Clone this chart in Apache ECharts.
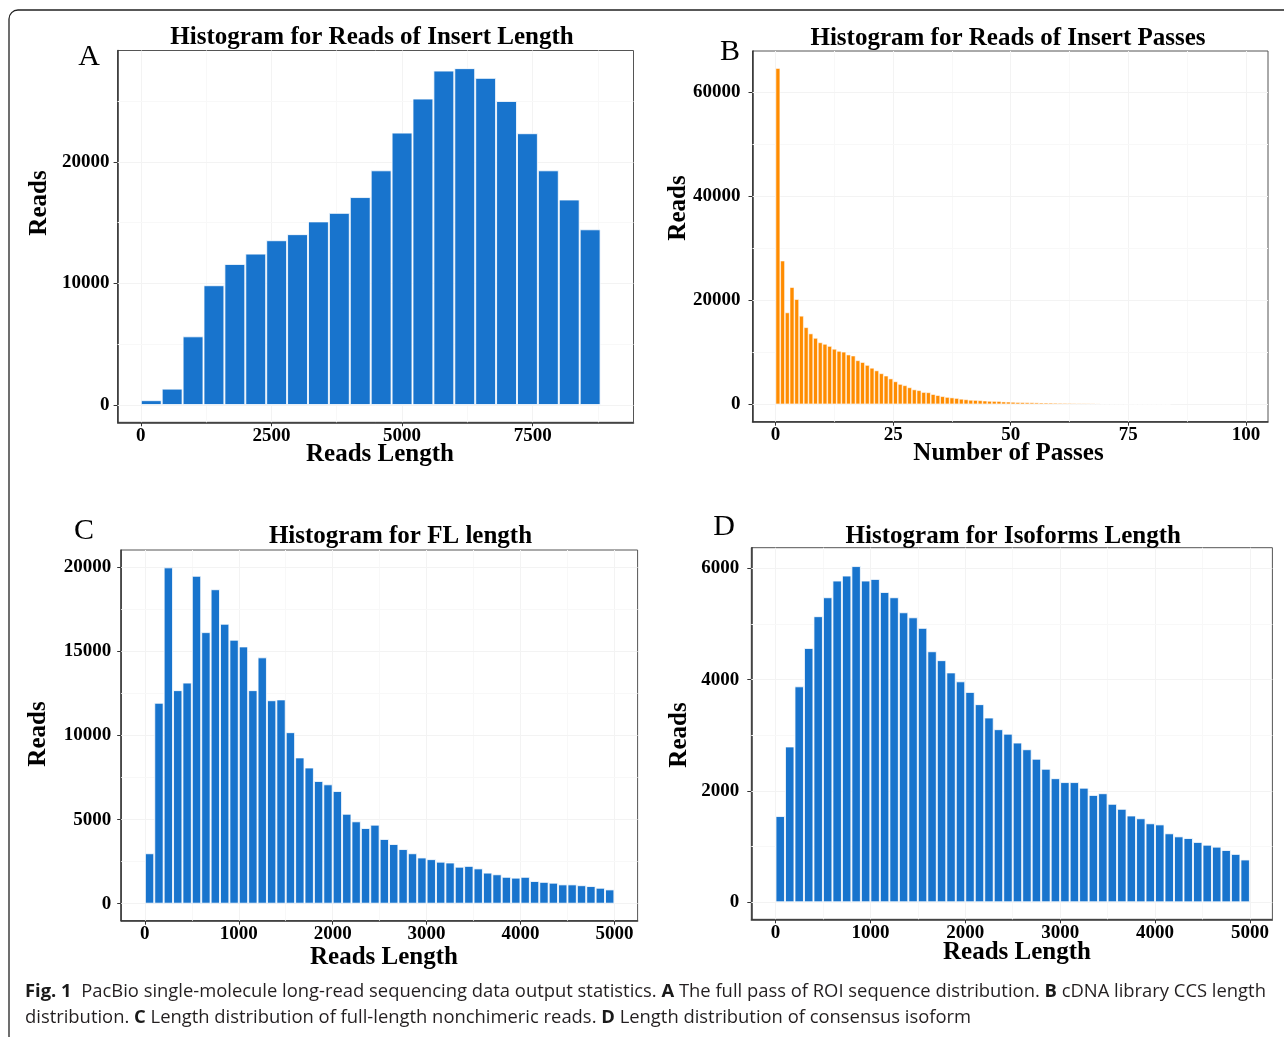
<!DOCTYPE html>
<html><head><meta charset="utf-8">
<script src="https://cdn.jsdelivr.net/npm/echarts@6/dist/echarts.min.js"></script>
<style>html,body{margin:0;padding:0;background:#fff}#c{width:1284px;height:1037px}</style>
</head><body><div id="c"></div>
<script>
// ---------- Panel A: Histogram for Reads of Insert Length ----------
const aBinStart = 0, aBinWidth = 400;
const aReads = [400,1350,5650,9850,11600,12450,13550,14050,15100,15800,17100,19300,22400,25200,27500,27700,26900,25000,22350,19300,16900,14450];
const aXTicks = [0,2500,5000,7500];
const aYTicks = [0,10000,20000];

// ---------- Panel B: Histogram for Reads of Insert Passes ----------
const bBinStart = 0, bBinWidth = 1;
const bReads = [64600,27600,17650,22500,20200,17000,14800,13600,12750,11900,
  11600,11200,10650,10250,10100,9550,9350,8450,8100,7550,
  7000,6500,5950,5500,4950,4400,3900,3650,3250,2850,
  2700,2350,2300,1950,1750,1550,1400,1300,1200,1050,
  950,850,820,770,700,650,630,620,520,500,
  460,420,400,380,360,340,320,310,300,280,
  260,250,240,220,200,190,180,170,150,140,
  130,120,110,100,90,80,70,60,55,50,
  45,40,35,30];
const bXTicks = [0,25,50,75,100];
const bYTicks = [0,20000,40000,60000];

// ---------- Panel C: Histogram for FL length ----------
const cBinStart = 0, cBinWidth = 100;
const cReads = [3000,11950,20000,12700,13150,19500,16150,18700,16650,15700,
  15300,12700,14650,12100,12150,10200,8700,8100,7300,7100,
  6700,5350,4900,4500,4700,3850,3550,3250,3000,2750,
  2650,2500,2450,2200,2250,2100,1850,1750,1600,1550,
  1600,1350,1300,1250,1150,1150,1100,1050,950,850];
const cXTicks = [0,1000,2000,3000,4000,5000];
const cYTicks = [0,5000,10000,15000,20000];

// ---------- Panel D: Histogram for Isoforms Length ----------
const dBinStart = 0, dBinWidth = 100;
const dReads = [1550,2800,3880,4570,5140,5480,5780,5870,6040,5780,
  5810,5575,5480,5210,5120,4930,4510,4350,4130,3970,
  3780,3560,3320,3110,3030,2870,2750,2580,2400,2230,
  2160,2160,2060,1930,1960,1770,1680,1560,1510,1420,
  1400,1240,1185,1155,1085,1035,1000,940,870,770];
const dXTicks = [0,1000,2000,3000,4000,5000];
const dYTicks = [0,2000,4000,6000];

// ---------- texts ----------
const titles = ['Histogram for Reads of Insert Length','Histogram for Reads of Insert Passes','Histogram for FL length','Histogram for Isoforms Length'];
const letters = ['A','B','C','D'];
const xNames = ['Reads Length','Number of Passes','Reads Length','Reads Length'];
const yName = 'Reads';
const captionLine1 = [['b','Fig. 1'],['r','  PacBio single-molecule long-read sequencing data output statistics. '],['b','A'],['r',' The full pass of ROI sequence distribution. '],['b','B'],['r',' cDNA library CCS length']];
const captionLine2 = [['r','distribution. '],['b','C'],['r',' Length distribution of full-length nonchimeric reads. '],['b','D'],['r',' Length distribution of consensus isoform']];

// ---------- layout ----------
const BLUE = '#1874CD', ORANGE = '#FF8C00';
const SERIF = '"Liberation Serif","Times New Roman",serif';
const panels = [
  {reads:aReads, start:aBinStart, bw:aBinWidth, xt:aXTicks, yt:aYTicks, color:BLUE, border:1,
   grid:{left:117.6, top:50.5, width:515.9, height:371.8}, xr:[-444,9430], yr:[-1420,29150], ym:8,
   title:[372,37.5], letter:[89,57], xn:[380,455], yn:[40,203]},
  {reads:bReads, start:bBinStart, bw:bBinWidth, xt:bXTicks, yt:bYTicks, color:ORANGE, border:0.7,
   grid:{left:752.5, top:51, width:515.5, height:370.7}, xr:[-4.9,104.7], yr:[-3343,67877], ym:12,
   title:[1008,39], letter:[730,52], xn:[1008.5,454], yn:[679,208]},
  {reads:cReads, start:cBinStart, bw:cBinWidth, xt:cXTicks, yt:cYTicks, color:BLUE, border:1,
   grid:{left:121.2, top:550, width:516.4, height:370.7}, xr:[-252,5247], yr:[-1011,21033], ym:10,
   title:[400.5,537], letter:[84,531], xn:[384,958], yn:[39,734]},
  {reads:dReads, start:dBinStart, bw:dBinWidth, xt:dXTicks, yt:dYTicks, color:BLUE, border:1,
   grid:{left:751.3, top:547.7, width:521.1, height:371.6}, xr:[-255,5237], yr:[-305,6370], ym:12,
   title:[1013.3,537], letter:[724,527], xn:[1017,953], yn:[680,735]}
];

function minors(t){ const s=t[1]-t[0]; const out=[]; for(let i=0;i<t.length;i++){ out.push(t[i]+s/2); } return out; }

const grids=[], xAxes=[], yAxes=[], series=[], graphics=[];
panels.forEach((p,i)=>{
  grids.push(Object.assign({show:true, borderColor:'#555', borderWidth:1, backgroundColor:'#fff', containLabel:false}, p.grid));
  const labelStyle = {color:'#000', fontFamily:SERIF, fontWeight:'bold', fontSize:19, formatter:v=>String(v)};
  xAxes.push({gridIndex:i, type:'value', min:p.xr[0], max:p.xr[1],
    axisLine:{show:true, onZero:false, lineStyle:{color:'#333', width:1.5}},
    axisTick:{show:true, length:4, customValues:p.xt, lineStyle:{color:'#333', width:1}},
    axisLabel:Object.assign({customValues:p.xt, margin:4}, labelStyle),
    splitLine:{show:false}});
  yAxes.push({gridIndex:i, type:'value', min:p.yr[0], max:p.yr[1],
    axisLine:{show:true, onZero:false, lineStyle:{color:'#333', width:1.5}},
    axisTick:{show:true, length:4, customValues:p.yt, lineStyle:{color:'#333', width:1}},
    axisLabel:Object.assign({customValues:p.yt, margin:p.ym}, labelStyle),
    splitLine:{show:false}});
  const pts = p.reads.map((v,k)=>[p.start + p.bw*(k+0.5), v]);
  const ml = [];
  p.xt.forEach(v=>ml.push({xAxis:v, lineStyle:{color:'#f3f3f3'}}));
  minors(p.xt).forEach(v=>{ if(v<p.xr[1]) ml.push({xAxis:v, lineStyle:{color:'#f8f8f8'}}); });
  p.yt.forEach(v=>ml.push({yAxis:v, lineStyle:{color:'#f3f3f3'}}));
  minors(p.yt).forEach(v=>{ if(v<p.yr[1]) ml.push({yAxis:v, lineStyle:{color:'#f8f8f8'}}); });
  series.push({type:'line', xAxisIndex:i, yAxisIndex:i, data:pts, z:1, showSymbol:false, symbol:'none',
    lineStyle:{opacity:0}, silent:true,
    markLine:{silent:true, symbol:'none', z:1, label:{show:false}, lineStyle:{type:'solid', width:1}, data:ml}});
  series.push({type:'bar', xAxisIndex:i, yAxisIndex:i, data:pts, z:3, barWidth:'100%', barGap:'0%', barCategoryGap:'0%',
    itemStyle:{color:p.color, borderColor:'rgba(255,255,255,0.8)', borderWidth:p.border}});
  graphics.push({type:'text', x:p.title[0], y:p.title[1], z:10, style:{text:titles[i], font:'bold 25px '+SERIF, fill:'#000', align:'center', verticalAlign:'middle', textAlign:'center', textVerticalAlign:'middle'}});
  graphics.push({type:'text', x:p.letter[0], y:p.letter[1], z:10, style:{text:letters[i], font:'30px '+SERIF, fill:'#000', align:'center', verticalAlign:'middle', textAlign:'center', textVerticalAlign:'middle'}});
  graphics.push({type:'text', x:p.xn[0], y:p.xn[1], z:10, style:{text:xNames[i], font:'bold 25px '+SERIF, fill:'#000', align:'center', verticalAlign:'middle', textAlign:'center', textVerticalAlign:'middle'}});
  graphics.push({type:'text', x:p.yn[0], y:p.yn[1], rotation:Math.PI/2, z:10, style:{text:yName, font:'bold 25px '+SERIF, fill:'#000', align:'center', verticalAlign:'middle', textAlign:'center', textVerticalAlign:'middle'}});
});

// caption
const CAP_FONT = '"Open Sans","Noto Sans",sans-serif';
const capSize = 18.4;
function richText(parts){ return parts.map(([t,s])=>'{'+t+'|'+s+'}').join(''); }
const rich = {b:{fontFamily:CAP_FONT, fontWeight:'bold', fontSize:capSize, fill:'#1a1a1a', color:'#1a1a1a'},
              r:{fontFamily:CAP_FONT, fontSize:capSize, fill:'#231f20', color:'#231f20'}};
graphics.push({type:'text', x:25, y:992, z:10, style:{text:richText(captionLine1), rich:rich, verticalAlign:'middle', textVerticalAlign:'middle'}});
graphics.push({type:'text', x:25, y:1018, z:10, style:{text:richText(captionLine2), rich:rich, verticalAlign:'middle', textVerticalAlign:'middle'}});
// figure frame
graphics.push({type:'rect', z:0, shape:{x:9, y:10, width:1400, height:1035, r:9}, style:{fill:'none', stroke:'#222', lineWidth:1.3}});

const chart = echarts.init(document.getElementById('c'), null, {renderer:'canvas'});
chart.setOption({
  animation:false, backgroundColor:'#fff',
  grid:grids, xAxis:xAxes, yAxis:yAxes, series:series, graphic:graphics
});
</script></body></html>
